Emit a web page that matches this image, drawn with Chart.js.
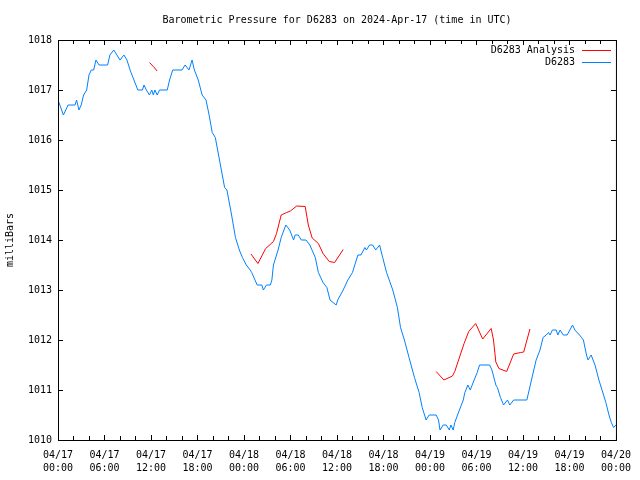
<!DOCTYPE html>
<html>
<head>
<meta charset="utf-8">
<script src="https://cdn.jsdelivr.net/npm/chart.js@4"></script>
<style>
  html, body { margin: 0; padding: 0; background: #fff; }
  canvas { display: block; }
</style>
</head>
<body>
<canvas id="pressureChart" width="640" height="480"></canvas>
<script>
// hours since 2024-04-17 00:00 UTC
const obsHours = [0, 0.7, 1.3, 2.2, 2.4, 2.7, 3.0, 3.3, 3.7, 4.0, 4.3, 4.6, 4.9, 5.3, 6.4, 6.7, 7.2, 7.6, 8.0, 8.5,
  8.9, 9.3, 9.8, 10.3, 10.9, 11.1, 11.4, 11.8, 12.1, 12.3, 12.5, 12.8, 13.1, 14.1, 14.4, 14.8, 16.0, 16.4, 16.9, 17.3,
  17.6, 18.1, 18.6, 19.1, 19.5, 19.9, 20.3, 20.6, 21.2, 21.5, 21.8, 22.4, 22.9, 23.4, 23.8, 24.3, 24.8, 25.0, 25.7, 26.3,
  26.5, 26.9, 27.4, 27.6, 27.8, 28.4, 28.8, 29.4, 29.9, 30.4, 30.6, 31.0, 31.4, 32.0, 32.5, 33.2, 33.6, 34.2, 34.7, 35.1,
  35.5, 35.9, 36.1, 36.8, 37.4, 38.0, 38.7, 39.1, 39.6, 39.8, 40.2, 40.6, 41.0, 41.5, 41.9, 42.4, 43.2, 43.8, 44.2, 44.7,
  45.3, 46.0, 46.6, 47.0, 47.5, 47.9, 48.8, 49.1, 49.3, 49.7, 50.1, 50.5, 50.7, 51.0, 51.2, 51.8, 52.3, 52.5, 52.9, 53.2,
  53.7, 54.1, 54.4, 55.7, 56.0, 56.5, 56.7, 57.1, 57.5, 58.0, 58.3, 58.8, 60.5, 60.8, 61.1, 61.7, 62.2, 62.6, 63.0, 63.3,
  63.5, 63.8, 64.3, 64.5, 64.8, 65.2, 65.7, 66.4, 66.7, 67.3, 67.8, 68.2, 68.4, 68.8, 69.3, 69.8, 70.2, 70.7, 71.1, 71.4,
  71.7, 72.0];
const obsPressure = [1016.8, 1016.5, 1016.7, 1016.7, 1016.8, 1016.6, 1016.7, 1016.9, 1017.0, 1017.3, 1017.4, 1017.4, 1017.6, 1017.5, 1017.5, 1017.7, 1017.8, 1017.7, 1017.6, 1017.7,
  1017.6, 1017.4, 1017.2, 1017.0, 1017.0, 1017.1, 1017.0, 1016.9, 1017.0, 1016.9, 1017.0, 1016.9, 1017.0, 1017.0, 1017.2, 1017.4, 1017.4, 1017.5, 1017.4, 1017.6,
  1017.4, 1017.2, 1016.9, 1016.8, 1016.5, 1016.15, 1016.05, 1015.8, 1015.3, 1015.05, 1015.0, 1014.5, 1014.05, 1013.8, 1013.65, 1013.5, 1013.4, 1013.35, 1013.1, 1013.1,
  1013.0, 1013.1, 1013.1, 1013.2, 1013.5, 1013.8, 1014.05, 1014.3, 1014.2, 1014.0, 1014.1, 1014.1, 1014.0, 1014.0, 1013.9, 1013.65, 1013.35, 1013.15, 1013.05, 1012.8,
  1012.75, 1012.7, 1012.8, 1013.0, 1013.2, 1013.35, 1013.7, 1013.7, 1013.85, 1013.8, 1013.9, 1013.9, 1013.8, 1013.9, 1013.65, 1013.35, 1013.0, 1012.65, 1012.25, 1012.0,
  1011.65, 1011.25, 1010.95, 1010.65, 1010.4, 1010.5, 1010.5, 1010.4, 1010.2, 1010.3, 1010.3, 1010.2, 1010.3, 1010.2, 1010.35, 1010.6, 1010.8, 1010.95, 1011.1, 1011.0,
  1011.2, 1011.35, 1011.5, 1011.5, 1011.4, 1011.1, 1011.05, 1010.85, 1010.7, 1010.8, 1010.7, 1010.8, 1010.8, 1011.0, 1011.2, 1011.6, 1011.8, 1012.05, 1012.1, 1012.15,
  1012.1, 1012.2, 1012.2, 1012.1, 1012.2, 1012.1, 1012.1, 1012.3, 1012.2, 1012.1, 1012.0, 1011.7, 1011.6, 1011.7, 1011.5, 1011.2, 1011.0, 1010.75, 1010.5, 1010.35,
  1010.25, 1010.3];

// analysis series, null marks a gap
const anaHours = [11.8, 12.3, 12.8, 18,
  24.9, 25.8, 26.8, 27.8, 28.2, 28.8, 29.5, 30.0, 30.8, 31.9, 32.3, 32.8, 33.6, 34.2, 35.0, 35.7, 36.8, 42,
  48.8, 49.8, 50.9, 51.2, 52.4, 53.0, 53.9, 54.8, 55.9, 56.2, 56.5, 56.9, 57.9, 58.8, 59.7, 60.1, 60.9];
const anaPressure = [1017.55, 1017.47, 1017.38, null,
  1013.72, 1013.53, 1013.83, 1013.97, 1014.13, 1014.5, 1014.55, 1014.58, 1014.68, 1014.67, 1014.3, 1014.04, 1013.93, 1013.73, 1013.57, 1013.55, 1013.81, null,
  1011.37, 1011.2, 1011.28, 1011.37, 1011.93, 1012.17, 1012.33, 1012.02, 1012.23, 1012.0, 1011.56, 1011.43, 1011.37, 1011.72, 1011.75, 1011.76, 1012.22];

const xTickDays = ['04/17', '04/17', '04/17', '04/17', '04/18', '04/18', '04/18', '04/18', '04/19', '04/19', '04/19', '04/19', '04/20'];
const xTickTimes = ['00:00', '06:00', '12:00', '18:00', '00:00', '06:00', '12:00', '18:00', '00:00', '06:00', '12:00', '18:00', '00:00'];
const yTicks = [1010, 1011, 1012, 1013, 1014, 1015, 1016, 1017, 1018];

const FONT = 'DejaVu Sans Mono';
const RED = '#ff0000';
const BLUE = '#0080ff';

function toPoints(xs, ys) {
  return xs.map((x, i) => ({ x: x, y: ys[i] }));
}

// gnuplot-like frame, inward ticks, title and legend
const framePlugin = {
  id: 'frame',
  afterDraw(chart) {
    const { ctx, chartArea: a, scales } = chart;
    const xs = scales.x, ys = scales.y;
    ctx.save();
    ctx.strokeStyle = '#000';
    ctx.lineWidth = 1;
    ctx.strokeRect(a.left + 0.5, a.top + 0.5, a.right - a.left, a.bottom - a.top);

    ctx.beginPath();
    for (let h = 0; h <= 72; h += 2) {
      const px = Math.round(xs.getPixelForValue(h)) + 0.5;
      const len = h % 6 === 0 ? 5 : 4;
      ctx.moveTo(px, a.bottom); ctx.lineTo(px, a.bottom - len);
      ctx.moveTo(px, a.top); ctx.lineTo(px, a.top + len);
    }
    yTicks.forEach(v => {
      const py = Math.round(ys.getPixelForValue(v)) + 0.5;
      ctx.moveTo(a.left, py); ctx.lineTo(a.left + 5, py);
      ctx.moveTo(a.right, py); ctx.lineTo(a.right - 5, py);
    });
    ctx.stroke();

    ctx.fillStyle = '#000';
    ctx.font = '10px "' + FONT + '"';
    ctx.textBaseline = 'middle';
    ctx.textAlign = 'center';
    ctx.fillText('Barometric Pressure for D6283 on 2024-Apr-17 (time in UTC)', (a.left + a.right) / 2, 20);

    // legend
    const rows = [['D6283 Analysis', RED], ['D6283', BLUE]];
    rows.forEach((r, i) => {
      const y = 50 + i * 12;
      ctx.fillStyle = '#000';
      ctx.textAlign = 'right';
      ctx.fillText(r[0], 575, y);
      ctx.strokeStyle = r[1];
      ctx.beginPath();
      ctx.moveTo(582, y + 0.5); ctx.lineTo(611, y + 0.5);
      ctx.stroke();
    });
    ctx.restore();
  }
};

new Chart(document.getElementById('pressureChart'), {
  type: 'line',
  data: {
    datasets: [
      {
        label: 'D6283 Analysis',
        data: toPoints(anaHours, anaPressure),
        borderColor: RED,
        borderWidth: 1,
        pointRadius: 0,
        tension: 0,
        spanGaps: false
      },
      {
        label: 'D6283',
        data: toPoints(obsHours, obsPressure),
        borderColor: BLUE,
        borderWidth: 1,
        pointRadius: 0,
        tension: 0
      }
    ]
  },
  options: {
    responsive: false,
    animation: false,
    devicePixelRatio: 1,
    layout: { padding: { top: 40, right: 20, left: 0, bottom: 0 } },
    plugins: {
      legend: { display: false },
      title: { display: false },
      tooltip: { enabled: false }
    },
    scales: {
      x: {
        type: 'linear',
        min: 0,
        max: 72,
        afterFit: s => { s.height = 40; },
        grid: { display: false, drawTicks: false },
        border: { display: false },
        ticks: {
          stepSize: 6,
          autoSkip: false,
          maxRotation: 0,
          padding: 9,
          color: '#000',
          font: { family: FONT, size: 10, lineHeight: 1.3 },
          callback: v => [xTickDays[v / 6], xTickTimes[v / 6]]
        }
      },
      y: {
        min: 1010,
        max: 1018,
        afterFit: s => { s.width = 58; },
        grid: { display: false, drawTicks: false },
        border: { display: false },
        title: {
          display: true,
          text: 'milliBars',
          color: '#000',
          font: { family: FONT, size: 10 }
        },
        ticks: {
          stepSize: 1,
          padding: 6,
          color: '#000',
          font: { family: FONT, size: 10 },
          callback: v => String(v)
        }
      }
    }
  },
  plugins: [framePlugin]
});
</script>
</body>
</html>
